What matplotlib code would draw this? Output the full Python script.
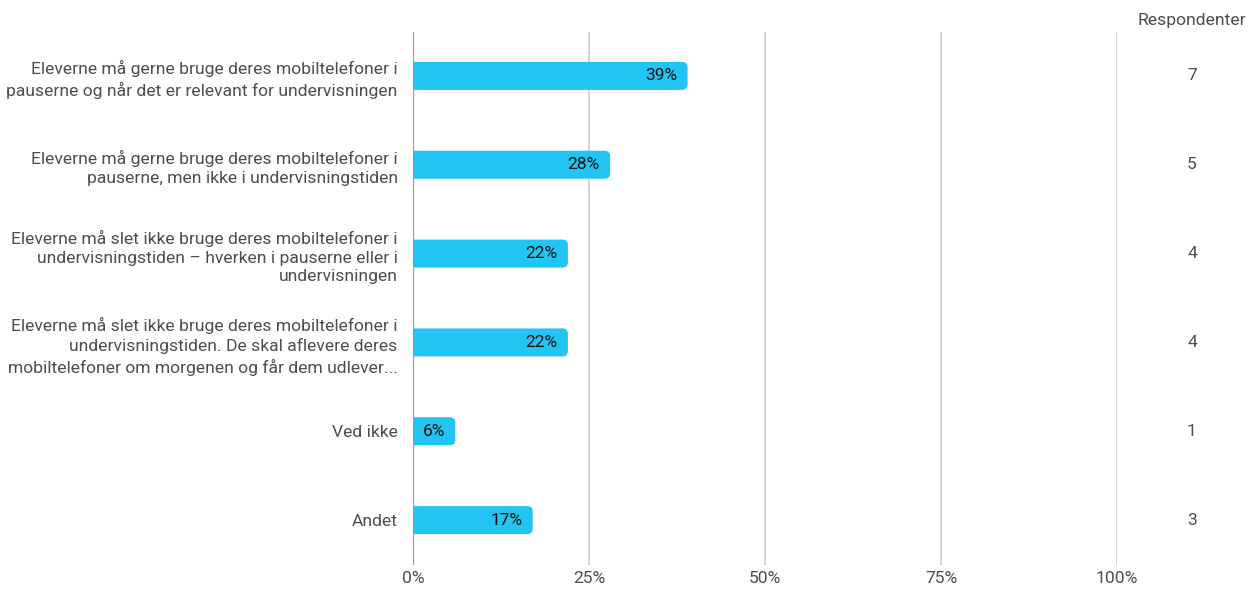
import matplotlib
matplotlib.use("Agg")
import matplotlib.pyplot as plt
from matplotlib.patches import FancyBboxPatch
from matplotlib.transforms import blended_transform_factory

plt.rcParams['font.family'] = ['Roboto', 'DejaVu Sans']

categories = [
    "Eleverne må gerne bruge deres mobiltelefoner i\npauserne og når det er relevant for undervisningen",
    "Eleverne må gerne bruge deres mobiltelefoner i\npauserne, men ikke i undervisningstiden",
    "Eleverne må slet ikke bruge deres mobiltelefoner i\nundervisningstiden – hverken i pauserne eller i\nundervisningen",
    "Eleverne må slet ikke bruge deres mobiltelefoner i\nundervisningstiden. De skal aflevere deres\nmobiltelefoner om morgenen og får dem udlever...",
    "Ved ikke",
    "Andet",
]
percents = [39, 28, 22, 22, 6, 17]
counts = [7, 5, 4, 4, 1, 3]
xticks = [0, 25, 50, 75, 100]
xticklabels = ["0%", "25%", "50%", "75%", "100%"]

BAR = "#21c4f3"
TXT = "#4d4d4d"

fig = plt.figure(figsize=(12.48, 5.89), dpi=100)
ax = fig.add_axes([413/1248, 1-564.5/589, 704/1248, 533/589])

ypos = list(range(len(categories)))
bars = ax.barh(ypos, percents, height=0.315, color=BAR)
# replace with rounded patches
rx = 0.75
for b in bars:
    x0, y0 = b.get_x(), b.get_y()
    w, h = b.get_width(), b.get_height()
    b.set_visible(False)
    p = FancyBboxPatch((x0 - rx, y0), w + rx, h,
                       boxstyle=f"round,pad=0,rounding_size={rx}",
                       mutation_aspect=0.08, facecolor=BAR, edgecolor="none",
                       zorder=3, clip_on=True)
    ax.add_patch(p)

for y, v in zip(ypos, percents):
    ax.annotate(f"{v}%", xy=(v, y), xytext=(-7.5, 0), textcoords="offset points",
                ha="right", va="center", fontsize=12.5, color="#111111", zorder=4)

ax.set_xlim(0, 100)
ax.set_ylim(len(categories) - 0.5, -0.5)
ax.set_xticks(xticks)
ax.set_xticklabels(xticklabels, fontsize=12.6, color=TXT)
ax.set_yticks(ypos)
ax.set_yticklabels(categories, fontsize=12.6, color=TXT, linespacing=1.32)
ax.tick_params(axis="y", length=0, pad=11)
ax.tick_params(axis="x", length=0, pad=5)
for s in ax.spines.values():
    s.set_visible(False)
for t in xticks[1:]:
    ax.axvline(t, color="#cccccc", lw=1.2, zorder=1)
ax.axvline(0, color="#999999", lw=1.6, zorder=5)

trans = blended_transform_factory(fig.transFigure, ax.transData)
for y, c in zip(ypos, counts):
    ax.text(1192/1248, y, str(c), transform=trans, ha="center", va="center",
            fontsize=12.6, color=TXT)
fig.text(1192/1248, 1-20/589, "Respondenter", ha="center", va="center",
         fontsize=12.6, color=TXT)

fig.savefig("out.png", dpi=100)
